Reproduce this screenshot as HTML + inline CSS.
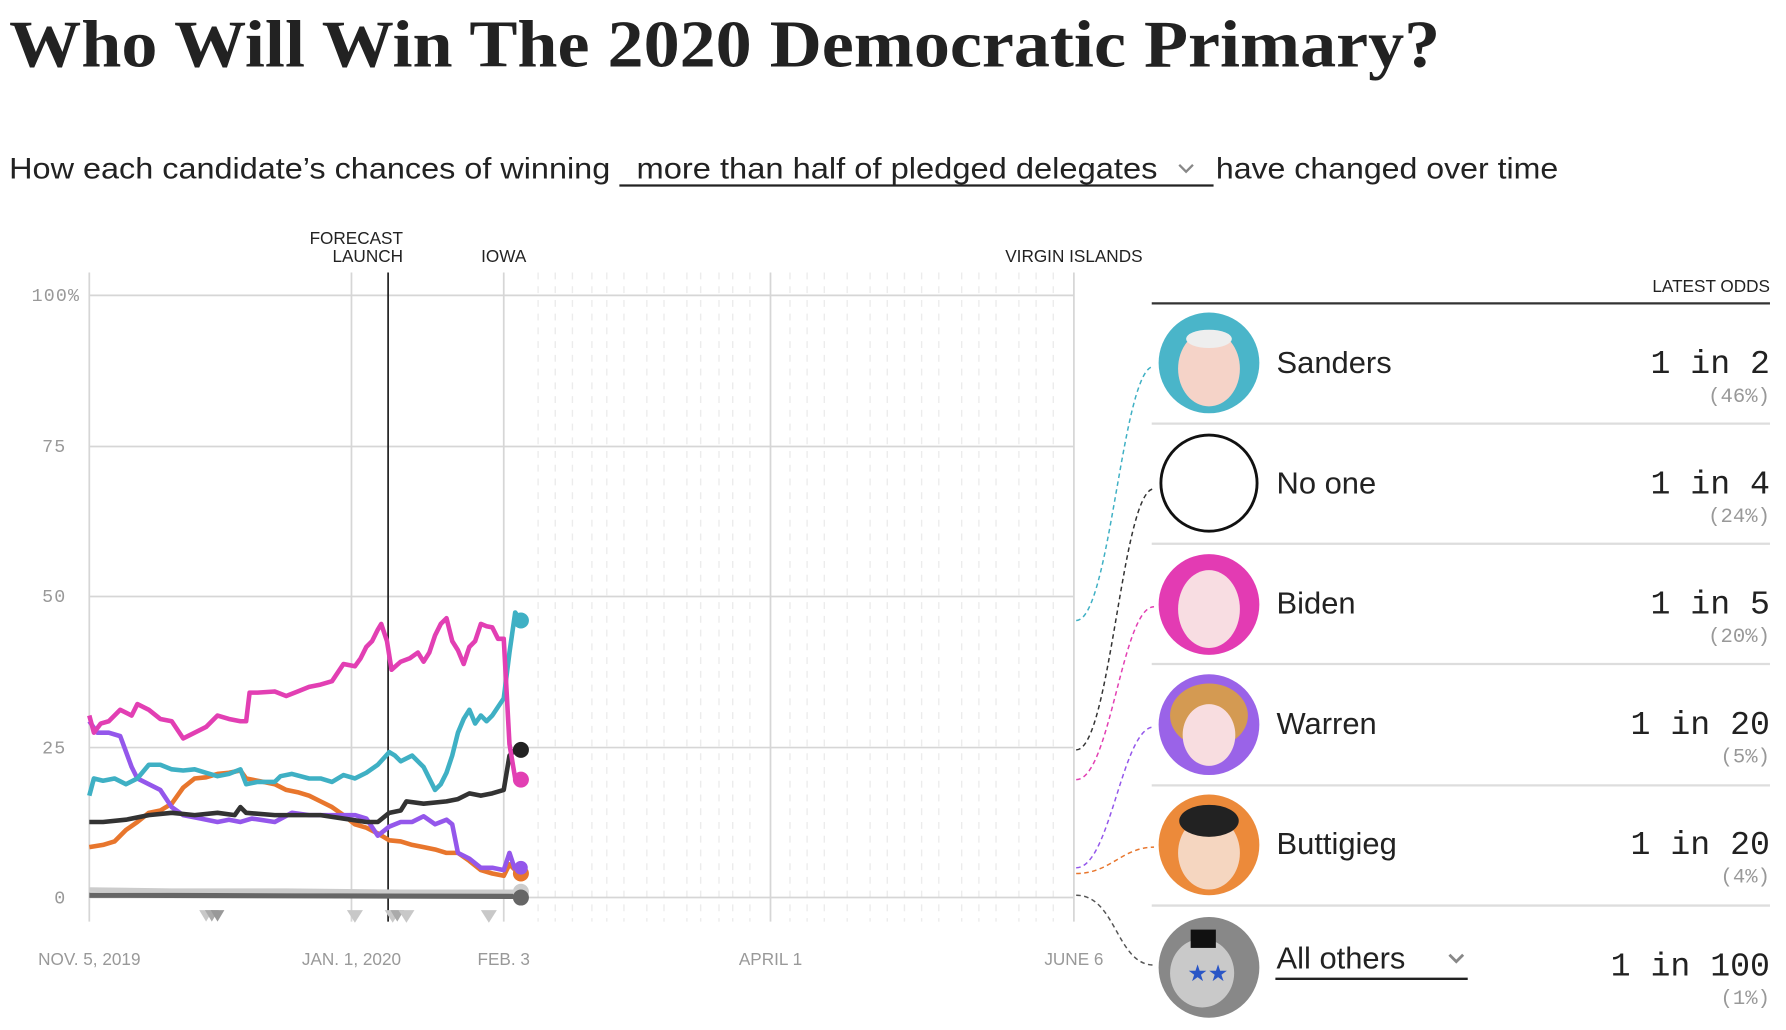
<!DOCTYPE html>
<html><head><meta charset="utf-8"><style>
html,body{margin:0;padding:0;background:#fff;}
svg{display:block;}
.sans{font-family:"Liberation Sans",sans-serif;}
.mono{font-family:"Liberation Mono",monospace;}
</style></head><body>
<svg width="1786" height="1030" viewBox="0 0 1560 899.7" preserveAspectRatio="none" xmlns="http://www.w3.org/2000/svg">
<text x="8" y="58" font-family="Liberation Serif,serif" font-weight="bold" font-size="58" fill="#222" textLength="1250" lengthAdjust="spacingAndGlyphs">Who Will Win The 2020 Democratic Primary?</text>
<g class="sans" font-size="26" fill="#222">
<text x="8" y="156" textLength="525" lengthAdjust="spacingAndGlyphs">How each candidate’s chances of winning</text>
<text x="556" y="156" textLength="455" lengthAdjust="spacingAndGlyphs">more than half of pledged delegates</text>
<text x="1062" y="156" textLength="299" lengthAdjust="spacingAndGlyphs">have changed over time</text>
</g>
<line x1="541" y1="162" x2="1060" y2="162" stroke="#222" stroke-width="2"/>
<path d="M1030,144 l6,6 l6,-6" fill="none" stroke="#888" stroke-width="2"/>

<g stroke="#ececec" stroke-width="1.2" stroke-dasharray="6,6">
<line x1="470" y1="238" x2="470" y2="805"/><line x1="485" y1="238" x2="485" y2="805"/><line x1="500" y1="238" x2="500" y2="805"/><line x1="517" y1="238" x2="517" y2="805"/><line x1="530" y1="238" x2="530" y2="805"/><line x1="545" y1="238" x2="545" y2="805"/><line x1="565" y1="238" x2="565" y2="805"/><line x1="580" y1="238" x2="580" y2="805"/><line x1="600" y1="238" x2="600" y2="805"/><line x1="612" y1="238" x2="612" y2="805"/><line x1="628" y1="238" x2="628" y2="805"/><line x1="640" y1="238" x2="640" y2="805"/><line x1="655" y1="238" x2="655" y2="805"/><line x1="690" y1="238" x2="690" y2="805"/><line x1="705" y1="238" x2="705" y2="805"/><line x1="720" y1="238" x2="720" y2="805"/><line x1="740" y1="238" x2="740" y2="805"/><line x1="760" y1="238" x2="760" y2="805"/><line x1="775" y1="238" x2="775" y2="805"/><line x1="790" y1="238" x2="790" y2="805"/><line x1="805" y1="238" x2="805" y2="805"/><line x1="820" y1="238" x2="820" y2="805"/><line x1="840" y1="238" x2="840" y2="805"/><line x1="855" y1="238" x2="855" y2="805"/><line x1="870" y1="238" x2="870" y2="805"/><line x1="890" y1="238" x2="890" y2="805"/><line x1="905" y1="238" x2="905" y2="805"/><line x1="920" y1="238" x2="920" y2="805"/>
</g>
<g stroke="#d6d6d6" stroke-width="1.5">
<line x1="78" y1="258" x2="938" y2="258"/><line x1="78" y1="390" x2="938" y2="390"/><line x1="78" y1="521" x2="938" y2="521"/><line x1="78" y1="653" x2="938" y2="653"/><line x1="78" y1="784" x2="938" y2="784"/>
<line x1="78" y1="238" x2="78" y2="805"/><line x1="307" y1="238" x2="307" y2="805"/><line x1="440" y1="238" x2="440" y2="805"/><line x1="673" y1="238" x2="673" y2="805"/><line x1="938" y1="238" x2="938" y2="805"/>
</g>
<line x1="339" y1="238" x2="339" y2="805" stroke="#222" stroke-width="1.5"/>
<g class="mono" font-size="16" fill="#999" text-anchor="end" letter-spacing="1">
<text x="70" y="263">100%</text><text x="58" y="395">75</text><text x="58" y="526">50</text><text x="58" y="658">25</text><text x="58" y="789">0</text>
</g>
<g class="sans" font-size="15" fill="#222">
<text x="352" y="213" text-anchor="end">FORECAST</text><text x="352" y="229" text-anchor="end">LAUNCH</text>
<text x="440" y="229" text-anchor="middle">IOWA</text>
<text x="938" y="229" text-anchor="middle">VIRGIN ISLANDS</text>
</g>
<g class="sans" font-size="15" fill="#999" text-anchor="middle">
<text x="78" y="843">NOV. 5, 2019</text><text x="307" y="843">JAN. 1, 2020</text><text x="440" y="843">FEB. 3</text><text x="673" y="843">APRIL 1</text><text x="938" y="843">JUNE 6</text>
</g>
<g fill="#c8c8c8">
<path d="M174,795 h12 l-6,10z"/><path d="M179,795 h12 l-6,10z" fill="#aaa"/><path d="M184,795 h12 l-6,10z" fill="#999"/>
<path d="M303,795 h14 l-7,11z"/><path d="M336,795 h14 l-7,11z"/><path d="M341,795 h12 l-6,10z" fill="#aaa"/><path d="M348,795 h14 l-7,11z"/><path d="M420,795 h14 l-7,11z"/>
</g>
<polyline points="78,777 150,778 250,778 350,779 455,779" fill="none" stroke="#ccc" stroke-width="4"/>
<line x1="78" y1="782" x2="455" y2="783" stroke="#666" stroke-width="4.5"/>
<g fill="none" stroke-width="4" stroke-linejoin="round">
<polyline stroke="#e8762d" points="78,740 90,738 100,735 110,725 120,718 130,710 140,708 150,702 160,688 170,680 180,679 190,676 200,675 210,673 215,680 230,683 240,685 250,690 260,692 270,695 280,700 290,705 300,712 310,720 320,723 330,728 340,734 350,735 360,738 370,740 380,742 390,745 400,745 410,752 420,760 430,763 440,765 445,755 450,760 455,762"/>
<polyline stroke="#9457eb" points="78,630 85,640 95,640 105,643 115,670 120,680 130,685 140,690 150,705 160,712 175,715 190,718 200,716 210,718 220,715 240,718 255,710 270,712 290,712 300,712 310,712 320,715 330,730 340,722 350,718 360,718 370,713 380,720 390,716 395,720 400,745 410,750 420,758 430,758 440,760 445,745 450,760 455,760"/>
<polyline stroke="#333" points="78,718 90,718 110,716 130,712 150,710 170,712 190,710 205,712 210,705 215,710 240,712 260,712 280,712 300,715 320,718 330,718 340,710 350,708 355,700 370,702 390,700 400,698 410,693 420,695 430,693 440,690 445,660 450,655 455,655"/>
<polyline stroke="#3fb0c4" points="78,695 82,680 90,682 100,680 110,685 120,680 130,668 140,668 150,672 160,673 170,672 180,675 190,678 200,676 210,672 215,685 225,683 240,683 245,678 255,676 270,680 280,680 290,683 300,677 310,680 320,675 330,668 340,657 345,660 350,665 360,660 370,670 380,690 385,685 390,675 395,660 400,640 405,628 410,620 415,632 420,625 425,630 430,625 440,610 445,570 450,535 455,542"/>
<polyline stroke="#e23fb3" points="78,625 82,640 88,632 95,630 105,620 115,625 120,615 130,620 140,628 150,630 160,645 170,640 180,635 190,625 200,628 210,630 215,630 218,605 225,605 240,604 250,608 260,604 270,600 280,598 290,595 300,580 310,582 315,575 320,565 325,560 330,550 333,545 338,560 342,585 350,578 358,575 365,570 370,578 375,570 380,555 385,545 390,540 395,560 400,568 405,580 410,565 415,560 420,545 425,547 430,548 435,558 440,558 445,650 450,680 455,681"/>
</g>
<g>
<circle cx="455" cy="779" r="7" fill="#ccc"/><circle cx="455" cy="784" r="7" fill="#666"/>
<circle cx="455" cy="763" r="7" fill="#e8762d"/><circle cx="455" cy="758" r="6" fill="#9457eb"/>
<circle cx="455" cy="681" r="7" fill="#e23fb3"/><circle cx="455" cy="655" r="7" fill="#222"/><circle cx="455" cy="542" r="7" fill="#3fb0c4"/>
</g>
<g fill="none" stroke-width="1.3" stroke-dasharray="4,3">
<path stroke="#3fb0c4" d="M940,542 C970,542 980,320 1008,320"/>
<path stroke="#333" d="M940,655 C970,655 980,427 1008,427"/>
<path stroke="#e23fb3" d="M940,681 C970,681 980,530 1008,530"/>
<path stroke="#9457eb" d="M940,758 C970,758 980,635 1008,635"/>
<path stroke="#e8762d" d="M940,763 C970,763 980,740 1008,740"/>
<path stroke="#555" d="M940,782 C975,782 975,843 1008,843"/>
</g>
<text class="sans" x="1546" y="255" font-size="15" fill="#222" text-anchor="end">LATEST ODDS</text>
<line x1="1006" y1="265" x2="1546" y2="265" stroke="#333" stroke-width="2"/>
<g stroke="#ddd" stroke-width="2"><line x1="1006" y1="370" x2="1546" y2="370"/><line x1="1006" y1="475" x2="1546" y2="475"/><line x1="1006" y1="580" x2="1546" y2="580"/><line x1="1006" y1="686" x2="1546" y2="686"/><line x1="1006" y1="791" x2="1546" y2="791"/></g>
<g>
<circle cx="1056" cy="317" r="44" fill="#4ab5c9"/><ellipse cx="1056" cy="322" rx="27" ry="33" fill="#f5d3c8"/><ellipse cx="1056" cy="296" rx="20" ry="8" fill="#eee"/>
<circle cx="1056" cy="422" r="42" fill="#fff" stroke="#111" stroke-width="2.5"/>
<circle cx="1056" cy="528" r="44" fill="#e33bb3"/><ellipse cx="1056" cy="532" rx="27" ry="34" fill="#f8dde2"/>
<circle cx="1056" cy="633" r="44" fill="#9a63e8"/><ellipse cx="1056" cy="625" rx="34" ry="28" fill="#d49a52"/><ellipse cx="1056" cy="642" rx="23" ry="27" fill="#f8dde0"/>
<circle cx="1056" cy="738" r="44" fill="#ec8a3a"/><ellipse cx="1056" cy="745" rx="27" ry="32" fill="#f5d6c0"/><ellipse cx="1056" cy="717" rx="26" ry="14" fill="#222"/>
<circle cx="1056" cy="845" r="44" fill="#888"/><ellipse cx="1050" cy="850" rx="28" ry="30" fill="#c9c9c9"/><rect x="1040" y="812" width="22" height="16" fill="#111"/>
<text x="1037" y="857" font-size="20" fill="#2a56c6">★★</text>
</g>
<g class="sans" font-size="27" fill="#222">
<text x="1115" y="326">Sanders</text><text x="1115" y="431">No one</text><text x="1115" y="536">Biden</text><text x="1115" y="641">Warren</text><text x="1115" y="746">Buttigieg</text><text x="1115" y="846">All others</text>
</g>
<line x1="1114" y1="855" x2="1282" y2="855" stroke="#222" stroke-width="2"/>
<path d="M1266,834 l6,6 l6,-6" fill="none" stroke="#888" stroke-width="2.5"/>
<g class="mono" font-size="29" fill="#222" text-anchor="end">
<text x="1546" y="326">1 in 2</text><text x="1546" y="431">1 in 4</text><text x="1546" y="536">1 in 5</text><text x="1546" y="641">1 in 20</text><text x="1546" y="746">1 in 20</text><text x="1546" y="852">1 in 100</text>
</g>
<g class="mono" font-size="18" fill="#999" text-anchor="end">
<text x="1546" y="351">(46%)</text><text x="1546" y="456">(24%)</text><text x="1546" y="561">(20%)</text><text x="1546" y="666">(5%)</text><text x="1546" y="771">(4%)</text><text x="1546" y="877">(1%)</text>
</g>
</svg>
</body></html>
